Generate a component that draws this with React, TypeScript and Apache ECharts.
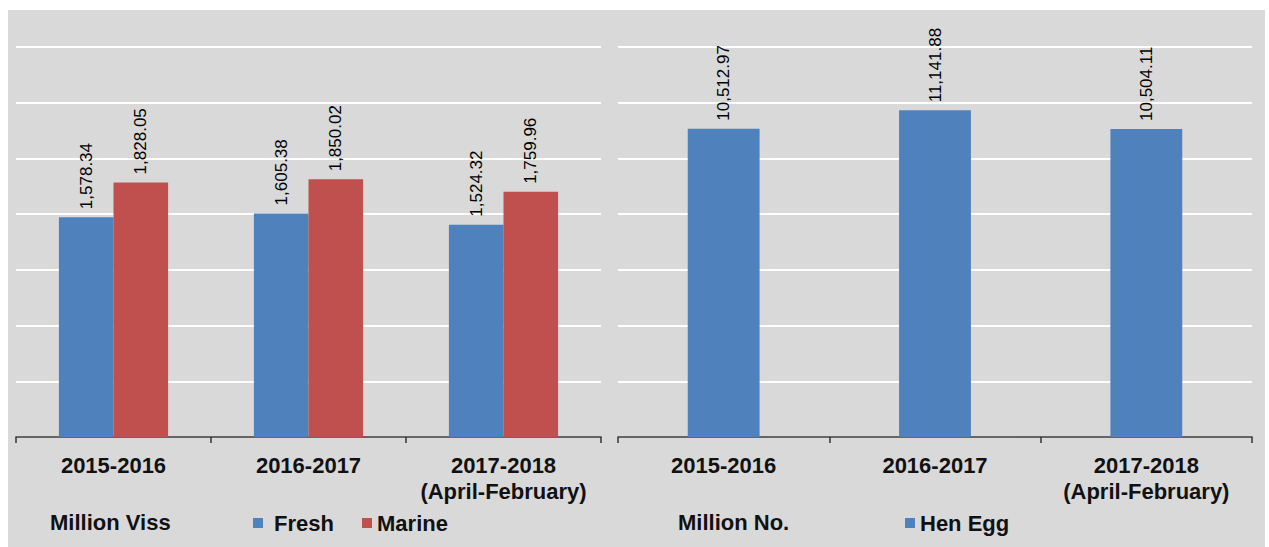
import React, { useEffect, useRef } from "react";
import * as echarts from "echarts";

const categories = ["2015-2016", "2016-2017", "2017-2018\n(April-February)"];
const freshValues = [1578.34, 1605.38, 1524.32];
const marineValues = [1828.05, 1850.02, 1759.96];
const henEggValues = [10512.97, 11141.88, 10504.11];
const leftUnit = "Million Viss";
const rightUnit = "Million No.";

const FONT = "'Liberation Sans', Arial, Helvetica, sans-serif";
const BLUE = "#4F81BD";
const RED = "#C0504D";

const fmt = (v: number) =>
  v.toLocaleString("en-US", { minimumFractionDigits: 2, maximumFractionDigits: 2 });

export default function App() {
  const ref = useRef<HTMLDivElement>(null);
  useEffect(() => {
    document.body.style.margin = "0";
    const chart = echarts.init(ref.current!, null, { renderer: "svg" });
    const barLabel = {
      show: true,
      position: "top" as const,
      rotate: 90,
      align: "left" as const,
      verticalAlign: "middle" as const,
      distance: 8,
      color: "#000",
      fontFamily: FONT,
      fontSize: 17,
      formatter: (p: any) => fmt(p.value),
    };
    const xAxisCommon = {
      type: "category" as const,
      data: categories,
      axisLine: { show: true, lineStyle: { color: "#333", width: 1.5 } },
      axisTick: { show: true, length: 6, lineStyle: { color: "#333", width: 1.5 } },
      axisLabel: {
        color: "#111",
        fontFamily: FONT,
        fontWeight: "bold" as const,
        fontSize: 22,
        lineHeight: 26,
        margin: 15,
        interval: 0,
      },
    };
    const yAxisCommon = {
      type: "value" as const,
      min: 0,
      axisLine: { show: false },
      axisTick: { show: false },
      axisLabel: { show: false },
      splitLine: { show: true, lineStyle: { color: "#ffffff", width: 2 } },
    };
    const legendText = { color: "#111", fontFamily: FONT, fontWeight: "bold" as const, fontSize: 22 };
    chart.setOption({
      animation: false,
      backgroundColor: "#ffffff",
      graphic: [
        {
          type: "rect",
          z: -10,
          silent: true,
          shape: { x: 8, y: 10, width: 1257, height: 540 },
          style: { fill: "#D9D9D9" },
        },
        {
          type: "text",
          x: 50,
          y: 522,
          style: {
            text: leftUnit,
            fill: "#111",
            font: `bold 22px ${FONT}`,
            verticalAlign: "middle",
          },
        },
        {
          type: "text",
          x: 678,
          y: 522,
          style: {
            text: rightUnit,
            fill: "#111",
            font: `bold 22px ${FONT}`,
            verticalAlign: "middle",
          },
        },
      ],
      grid: [
        { left: 16, top: 47, width: 585, height: 390 },
        { left: 618, top: 47, width: 634, height: 390 },
      ],
      xAxis: [
        { ...xAxisCommon, gridIndex: 0 },
        { ...xAxisCommon, gridIndex: 1 },
      ],
      yAxis: [
        { ...yAxisCommon, gridIndex: 0, max: 2800, interval: 400 },
        { ...yAxisCommon, gridIndex: 1, max: 13300, interval: 1900 },
      ],
      legend: [
        {
          data: ["Fresh", "Marine"],
          left: 248,
          top: 507,
          icon: "rect",
          itemWidth: 10,
          itemHeight: 10,
          itemGap: 28,
          formatter: (n: string) => (n === "Fresh" ? " " + n : n),
          textStyle: legendText,
        },
        {
          data: ["Hen Egg"],
          left: 900,
          top: 507,
          icon: "rect",
          itemWidth: 10,
          itemHeight: 10,
          textStyle: legendText,
        },
      ],
      series: [
        {
          name: "Fresh",
          type: "bar",
          xAxisIndex: 0,
          yAxisIndex: 0,
          data: freshValues,
          itemStyle: { color: BLUE },
          barGap: "0%",
          barCategoryGap: "44%",
          label: barLabel,
        },
        {
          name: "Marine",
          type: "bar",
          xAxisIndex: 0,
          yAxisIndex: 0,
          data: marineValues,
          itemStyle: { color: RED },
          barGap: "0%",
          barCategoryGap: "44%",
          label: barLabel,
        },
        {
          name: "Hen Egg",
          type: "bar",
          xAxisIndex: 1,
          yAxisIndex: 1,
          data: henEggValues,
          itemStyle: { color: BLUE },
          barCategoryGap: "66%",
          label: barLabel,
        },
      ],
    });
    return () => chart.dispose();
  }, []);
  return <div ref={ref} style={{ width: 1269, height: 547 }} />;
}
